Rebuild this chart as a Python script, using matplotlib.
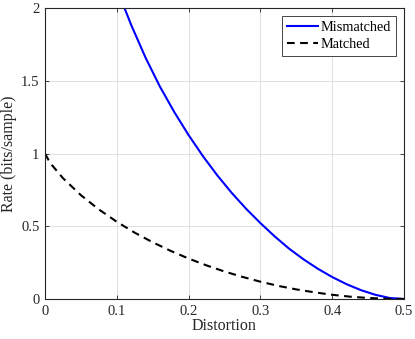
import matplotlib
matplotlib.use("Agg")
import matplotlib.pyplot as plt

# Values
dist_mismatched = [0.11, 0.12, 0.14, 0.16, 0.18, 0.20, 0.22, 0.24, 0.26, 0.28,
                   0.30, 0.32, 0.34, 0.36, 0.38, 0.40, 0.42, 0.44, 0.46, 0.48, 0.50]
rate_mismatched = [2.01, 1.885, 1.66, 1.461, 1.286, 1.127, 0.982, 0.850, 0.730, 0.621,
                   0.522, 0.430, 0.346, 0.273, 0.208, 0.151, 0.102, 0.061, 0.029, 0.007, 0.0]

dist_matched = [0.0, 0.005, 0.01, 0.025, 0.05, 0.075, 0.10, 0.125, 0.15, 0.175, 0.20,
                0.225, 0.25, 0.275, 0.30, 0.325, 0.35, 0.375, 0.40, 0.425, 0.45,
                0.475, 0.50]
rate_matched = [1.0, 0.955, 0.919, 0.831, 0.714, 0.616, 0.531, 0.456, 0.390, 0.331, 0.278,
                0.231, 0.189, 0.152, 0.119, 0.090, 0.066, 0.046, 0.029, 0.016, 0.007,
                0.002, 0.0]

x_ticks = [0, 0.1, 0.2, 0.3, 0.4, 0.5]
x_labels = ["0", "0.1", "0.2", "0.3", "0.4", "0.5"]
y_ticks = [0, 0.5, 1, 1.5, 2]
y_labels = ["0", "0.5", "1", "1.5", "2"]

plt.rcParams["font.family"] = ["Liberation Serif", "DejaVu Serif"]

fig = plt.figure(figsize=(4.15, 3.39), dpi=100)
ax = fig.add_axes([0.1084, 0.118, 0.8651, 0.858])

ax.plot(dist_mismatched, rate_mismatched, color="#0000ff", lw=1.5, label="Mismatched")
ax.plot(dist_matched, rate_matched, color="black", lw=1.5, dashes=(3.7, 2.6), label="Matched")

ax.set_xlim(0, 0.5)
ax.set_ylim(0, 2)
ax.set_xticks(x_ticks)
ax.set_xticklabels(x_labels)
ax.set_yticks(y_ticks)
ax.set_yticklabels(y_labels)

axis_col = "#262626"
for s in ax.spines.values():
    s.set_color(axis_col)
    s.set_linewidth(0.8)
ax.tick_params(direction="in", length=3, width=0.6, colors=axis_col,
               labelsize=10.5, top=True, right=True, pad=4)
ax.grid(True, color="#e0e0e0", lw=0.7)
ax.set_axisbelow(True)

ax.set_xlabel("Distortion", fontsize=11.5, color=axis_col, labelpad=0)
ax.set_ylabel("Rate (bits/sample)", fontsize=11.5, color=axis_col, labelpad=3)

leg = ax.legend(loc="upper right", fontsize=10.3, fancybox=False, framealpha=1,
                edgecolor=axis_col, handlelength=2.15, borderpad=0.35,
                labelspacing=0.25, handletextpad=0.2, borderaxespad=0.55)
leg.get_frame().set_linewidth(0.6)

fig.savefig("out.png", dpi=100)
